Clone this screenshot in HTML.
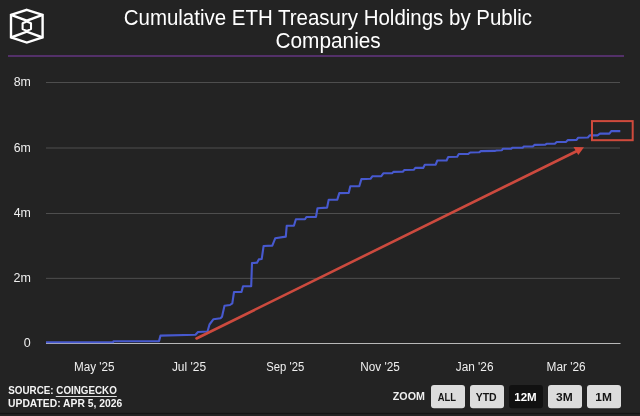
<!DOCTYPE html>
<html><head><meta charset="utf-8">
<style>
html,body{margin:0;padding:0;}
body{width:640px;height:416px;overflow:hidden;background:#232323;position:relative;}
svg{position:absolute;left:0;top:0;font-family:"Liberation Sans",Arial,sans-serif;}
</style></head><body>
<svg width="640" height="416" viewBox="0 0 640 416">
  <rect x="0" y="412.8" width="640" height="1.4" fill="#141414"/>
  <rect x="8" y="55" width="616" height="2" fill="#533069"/>
  <g fill="none" stroke="#fff" stroke-width="2.4" stroke-linejoin="miter">
    <polygon points="26.8,9.8 42.6,14.9 42.6,37.5 26.8,42.6 11,37.5 11,14.9"/>
    <path d="M11 14.9 L26.8 20.7 L42.6 14.9 M11 37.5 L26.8 31.7 L42.6 37.5"/>
    <polygon points="26.8,21.5 31,23.3 31,29.1 26.8,30.9 22.6,29.1 22.6,23.3" stroke-linejoin="round" stroke-width="2.1"/>
  </g>
  <g stroke="#4e4e4e" stroke-width="1">
    <line x1="46" y1="82.5" x2="620" y2="82.5"/>
    <line x1="46" y1="148" x2="620" y2="148"/>
    <line x1="46" y1="213.5" x2="620" y2="213.5"/>
    <line x1="46" y1="278.35" x2="620" y2="278.35"/>
  </g>
  <line x1="46" y1="343.5" x2="620.5" y2="343.5" stroke="#b8b8b8" stroke-width="1.2"/>
  <polyline fill="none" stroke="#4759cf" stroke-width="2.1" stroke-linejoin="round" points="46,342.2 113,342.2 113.5,341.2 159,341.1 160.5,335.6 195.5,334.8 198,332 207.5,331.5 209.5,324.5 213.5,319.2 220.5,318.3 222,316.7 224.5,305.8 230,305 232.3,303.4 234,292 241.5,292 243,286.3 251.2,286.3 252,263 257,262.8 258.8,259.4 261.7,259 263.6,246 272.3,245.6 275.2,238.3 285.8,236.6 286.7,225.8 293.9,225.8 295.9,219.2 305,219.2 306.4,217 316,216.9 317.5,208.2 327.1,207.6 328.7,199.7 337.3,199.6 339.3,193.1 348.7,193 350.3,186.2 359.3,186.2 361.4,179.1 370.5,178.8 372.3,176.3 381.3,176.2 383.3,173.3 392.3,173.1 393.4,171.9 402.8,171.7 404.4,170 413.75,169.8 415.3,167.9 423.2,167.9 424.8,164.8 435.7,164.6 437.3,160.5 446.6,160.5 448.2,157 457.2,156.8 458.8,154 468.3,153.9 470.2,152.5 479.2,152.3 480.8,151.1 494.8,150.9 496.4,150.5 501.9,150.3 502.8,148.8 511,148.8 512.5,147.7 522.7,147.7 523.8,146.5 532.8,146.4 534.4,144.9 544.9,144.8 546.5,143.8 554.8,143.8 556.7,142 566.1,141.9 567.7,140.1 576.6,139.9 578.2,137.7 587.9,137.5 589.7,135.4 597.5,135.4 600,133.6 609.4,133.6 611.25,131.1 620.3,131.1"/>
  <g stroke="#cc4a3e" fill="#d4483a">
    <line x1="196.5" y1="338.5" x2="578" y2="150.5" stroke-width="2.6" stroke-linecap="round"/>
    <polygon points="584,147.3 573.5,147 578.3,155" stroke="none"/>
  </g>
  <rect x="592" y="121.1" width="40.7" height="19.1" fill="none" stroke="#cf4a3c" stroke-width="2"/>
  <rect x="431" y="385" width="34" height="23.3" rx="3" fill="#dcdcdc"/>
  <rect x="470" y="385" width="34" height="23.3" rx="3" fill="#dcdcdc"/>
  <rect x="509" y="385" width="34" height="23.3" rx="3" fill="#111"/>
  <rect x="548" y="385" width="34" height="23.3" rx="3" fill="#dcdcdc"/>
  <rect x="587" y="385" width="34" height="23.3" rx="3" fill="#dcdcdc"/>
  <rect x="55.8" y="396" width="61" height="1" fill="#ddd"/>
  <text x="123.73" y="25" font-size="22" font-weight="normal" fill="#fff" textLength="408.36" lengthAdjust="spacingAndGlyphs">Cumulative ETH Treasury Holdings by Public</text>
  <text x="275.47" y="48" font-size="22" font-weight="normal" fill="#fff" textLength="105.29" lengthAdjust="spacingAndGlyphs">Companies</text>
  <text x="13.68" y="86" font-size="12" font-weight="normal" fill="#efefef" textLength="17.19" lengthAdjust="spacingAndGlyphs">8m</text>
  <text x="13.67" y="152" font-size="12" font-weight="normal" fill="#efefef" textLength="17.11" lengthAdjust="spacingAndGlyphs">6m</text>
  <text x="13.7" y="217" font-size="12" font-weight="normal" fill="#efefef" textLength="17.21" lengthAdjust="spacingAndGlyphs">4m</text>
  <text x="13.45" y="282" font-size="12" font-weight="normal" fill="#efefef" textLength="17.36" lengthAdjust="spacingAndGlyphs">2m</text>
  <text x="23.65" y="347" font-size="12" font-weight="normal" fill="#efefef" textLength="6.95" lengthAdjust="spacingAndGlyphs">0</text>
  <text x="74.0" y="371" font-size="12" font-weight="normal" fill="#efefef" textLength="40.54" lengthAdjust="spacingAndGlyphs">May '25</text>
  <text x="171.91" y="371" font-size="12" font-weight="normal" fill="#efefef" textLength="34.13" lengthAdjust="spacingAndGlyphs">Jul '25</text>
  <text x="266.31" y="371" font-size="12" font-weight="normal" fill="#efefef" textLength="37.87" lengthAdjust="spacingAndGlyphs">Sep '25</text>
  <text x="360.25" y="371" font-size="12" font-weight="normal" fill="#efefef" textLength="39.52" lengthAdjust="spacingAndGlyphs">Nov '25</text>
  <text x="455.79" y="371" font-size="12" font-weight="normal" fill="#efefef" textLength="37.74" lengthAdjust="spacingAndGlyphs">Jan '26</text>
  <text x="546.54" y="371" font-size="12" font-weight="normal" fill="#efefef" textLength="39.07" lengthAdjust="spacingAndGlyphs">Mar '26</text>
  <text x="8.32" y="394" font-size="11" font-weight="bold" fill="#f4f4f4" textLength="108.52" lengthAdjust="spacingAndGlyphs">SOURCE: COINGECKO</text>
  <text x="8.07" y="407" font-size="11" font-weight="bold" fill="#f4f4f4" textLength="114.08" lengthAdjust="spacingAndGlyphs">UPDATED: APR 5, 2026</text>
  <text x="392.81" y="400" font-size="11" font-weight="bold" fill="#efefef" textLength="32.06" lengthAdjust="spacingAndGlyphs">ZOOM</text>
  <text x="437.7" y="401" font-size="11" font-weight="bold" fill="#141414" textLength="18.31" lengthAdjust="spacingAndGlyphs">ALL</text>
  <text x="475.71" y="401" font-size="11" font-weight="bold" fill="#141414" textLength="20.96" lengthAdjust="spacingAndGlyphs">YTD</text>
  <text x="514.23" y="401" font-size="11" font-weight="bold" fill="#fff" textLength="22.45" lengthAdjust="spacingAndGlyphs">12M</text>
  <text x="556.02" y="401" font-size="11" font-weight="bold" fill="#141414" textLength="16.65" lengthAdjust="spacingAndGlyphs">3M</text>
  <text x="595.35" y="401" font-size="11" font-weight="bold" fill="#141414" textLength="16.57" lengthAdjust="spacingAndGlyphs">1M</text>
</svg>
</body></html>
